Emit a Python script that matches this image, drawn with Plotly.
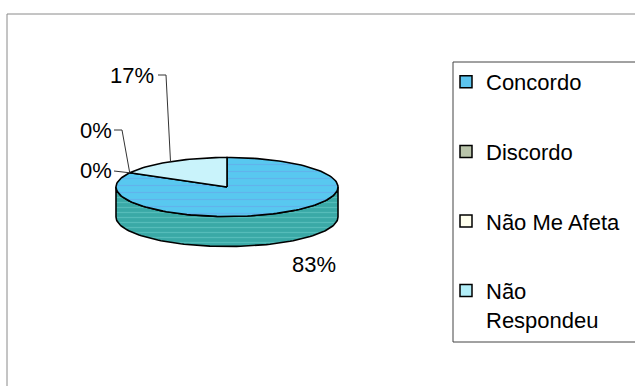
import math
import plotly.graph_objects as go

# Survey answers (percent of respondents)
categories = ["Concordo", "Discordo", "Não Me Afeta", "Não Respondeu"]
percents = [83, 0, 0, 17]
legend_names = ["Concordo", "Discordo", "Não Me Afeta", "Não<br>Respondeu"]

# Colours for the top faces, the side walls and the legend swatches
top_colors = ["#58C8F0", "#B7C6A6", "#FFFFEE", "#C9F3FB"]
side_colors = ["#3AA9A6", "#8E9C80", "#CCCCBB", "#8FC8D2"]
swatch_colors = ["#5CC4EE", "#B9C4AA", "#FFFFEE", "#B2EEF8"]

W, H = 635, 386
FONT = "Liberation Sans, Arial"
# Pie ellipse geometry in pixel units
CX, CY, RX, RY, DEPTH = 227, 187, 111, 29.5, 30


def pt(theta_deg, dy=0.0):
    """Point on the ellipse rim; angle measured clockwise from 12 o'clock."""
    t = math.radians(theta_deg)
    return CX + RX * math.sin(t), CY - RY * math.cos(t) + dy


def arc(a0, a1, dy=0.0, n=None):
    n = n or max(2, int(abs(a1 - a0) / 2) + 2)
    xs, ys = [], []
    for i in range(n):
        x, y = pt(a0 + (a1 - a0) * i / (n - 1), dy)
        xs.append(x)
        ys.append(y)
    return xs, ys


total = sum(percents)
bounds = []
acc = 0.0
for p in percents:
    a0 = acc / total * 360
    acc += p
    a1 = acc / total * 360
    bounds.append((a0, a1))

fig = go.Figure()

# Side walls: front part of the rim (90..270 degrees) for each slice
for i, (a0, a1) in enumerate(bounds):
    s, e = max(a0, 90), min(a1, 270)
    if e - s <= 0:
        continue
    tx, ty = arc(s, e)
    bx, by = arc(e, s, dy=DEPTH)
    fig.add_trace(go.Scatter(
        x=tx + bx + [tx[0]], y=ty + by + [ty[0]], mode="lines",
        fill="toself", fillcolor=side_colors[i],
        fillpattern=dict(shape="-", fgcolor="#6FD0CC", bgcolor=side_colors[i],
                         size=5, solidity=0.25),
        line=dict(color="black", width=1.6), hoverinfo="skip", showlegend=False))

# Top faces of the slices
for i, (a0, a1) in enumerate(bounds):
    if a1 - a0 <= 0:
        continue
    ax, ay = arc(a0, a1)
    xs = [CX] + ax + [CX]
    ys = [CY] + ay + [CY]
    kw = {}
    if i == 0:
        kw["fillpattern"] = dict(shape="-", fgcolor="#6A9EE8", bgcolor=top_colors[i],
                                 size=7, solidity=0.18)
    fig.add_trace(go.Scatter(
        x=xs, y=ys, mode="lines", fill="toself", fillcolor=top_colors[i],
        line=dict(color="black", width=1.6), hoverinfo="skip", showlegend=False,
        name=categories[i], **kw))

# Data labels with leader lines (label anchors in pixel units)
label_pos = [(314, 264), (96, 130), (96, 170), (132, 75)]
leader_elbow = [None, (122, 130), None, (166, 75)]
leader_start = [None, (114, 130), (114, 171), (158, 75)]
for i, (a0, a1) in enumerate(bounds):
    lx, ly = label_pos[i]
    fig.add_annotation(x=lx, y=ly, text=f"{percents[i]}%", showarrow=False,
                       font=dict(family=FONT, size=22, color="black"))
    if leader_start[i] is None:
        continue
    mx, my = pt((a0 + a1) / 2)
    xs = [leader_start[i][0]]
    ys = [leader_start[i][1]]
    if leader_elbow[i]:
        xs.append(leader_elbow[i][0])
        ys.append(leader_elbow[i][1])
    xs.append(mx)
    ys.append(my)
    fig.add_trace(go.Scatter(x=xs, y=ys, mode="lines",
                             line=dict(color="#333333", width=1),
                             hoverinfo="skip", showlegend=False))

# Legend entries
for i, name in enumerate(legend_names):
    fig.add_trace(go.Scatter(
        x=[None], y=[None], mode="markers", name=name, legendgroup=categories[i],
        marker=dict(symbol="square", size=12, color=swatch_colors[i],
                    line=dict(color="black", width=1.5))))

fig.update_layout(
    width=W, height=H, margin=dict(l=0, r=0, t=0, b=0),
    paper_bgcolor="white", plot_bgcolor="white",
    xaxis=dict(range=[0, W], visible=False, fixedrange=True),
    yaxis=dict(range=[H, 0], visible=False, fixedrange=True),
    font=dict(family=FONT, size=22, color="black"),
    legend=dict(x=446 / W, y=1 - 61 / H, xanchor="left", yanchor="top",
                borderwidth=0, bgcolor="rgba(0,0,0,0)",
                tracegroupgap=38, itemwidth=30, valign="top",
                font=dict(family=FONT, size=22)),
    shapes=[
        # chart area border
        dict(type="rect", xref="paper", yref="paper",
             x0=7 / W, x1=1.01, y0=-0.01, y1=1 - 14 / H,
             line=dict(color="#8A8A8A", width=1)),
        # legend frame
        dict(type="rect", xref="paper", yref="paper",
             x0=453 / W, x1=1.01, y0=1 - 342 / H, y1=1 - 62 / H,
             line=dict(color="#444444", width=1)),
    ],
)

fig.write_html("out.html")
